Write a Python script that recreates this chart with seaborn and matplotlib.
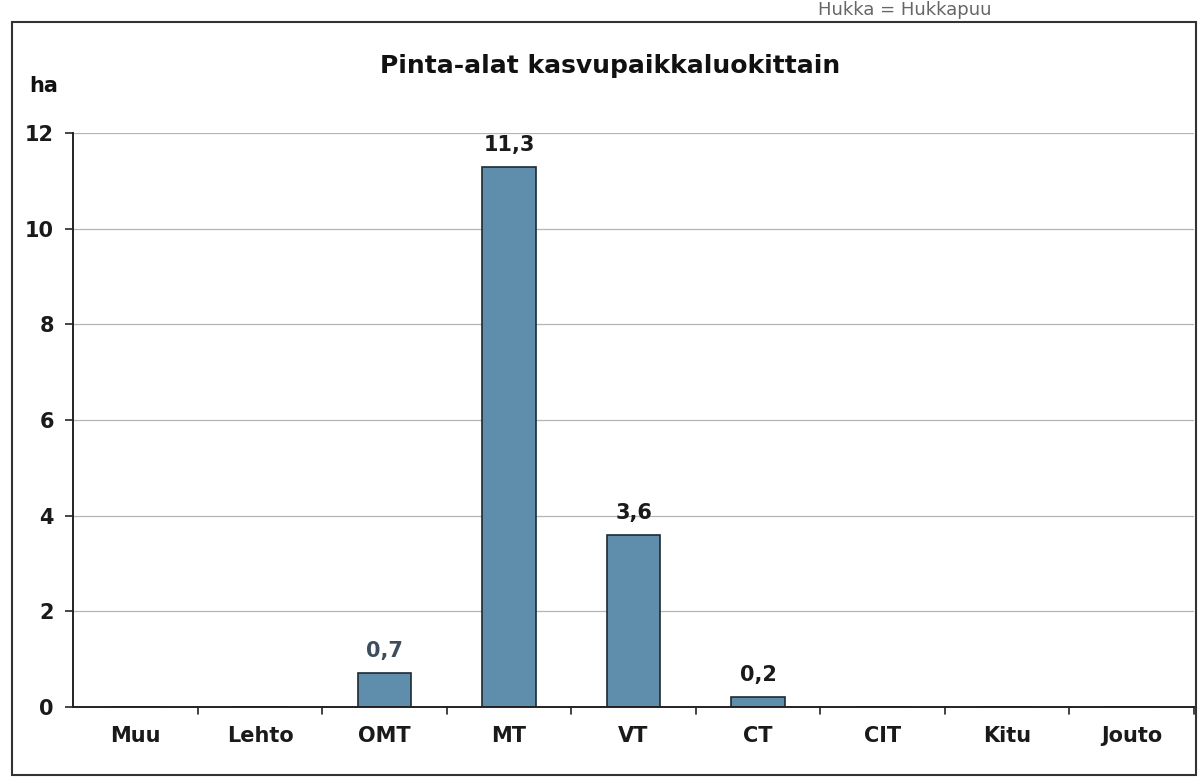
import numpy as np
import pandas as pd
import seaborn as sns
import matplotlib.pyplot as plt
from matplotlib.patches import Rectangle

# ====================== DATA ======================
categories = ["Muu", "Lehto", "OMT", "MT", "VT", "CT", "CIT", "Kitu", "Jouto"]
area_ha = [0.0, 0.0, 0.7, 11.3, 3.6, 0.2, 0.0, 0.0, 0.0]
value_labels = ["", "", "0,7", "11,3", "3,6", "0,2", "", "", ""]
y_ticks = [0, 2, 4, 6, 8, 10, 12]

df = pd.DataFrame({"luokka": categories, "ha": area_ha})

# ====================== PLOT ======================
sns.set_theme(style="white")
plt.rcParams["font.family"] = ["DejaVu Sans"]

fig = plt.figure(figsize=(12.01, 7.80), dpi=100)
ax = fig.add_axes([0.061, 0.094, 0.933, 0.735])

sns.barplot(data=df, x="luokka", y="ha", color="#5e8eab", saturation=1,
            width=0.43, edgecolor="#1e2a33", linewidth=1.2, ax=ax)

ax.set_ylim(0, 12)
ax.set_xlim(-0.5, len(categories) - 0.5)
ax.set_yticks(y_ticks)
ax.set_yticklabels([str(t) for t in y_ticks], fontsize=15, fontweight="bold",
                   color="#1a1a1a")
ax.set_xticks(range(len(categories)))
ax.set_xticklabels(categories, fontsize=15, fontweight="bold", color="#1a1a1a")
ax.tick_params(axis="x", length=0, pad=14)
ax.tick_params(axis="y", length=6, width=1.2, direction="out", left=True, pad=8)

# category boundary ticks on x axis
for b in np.arange(0.5, len(categories), 1.0):
    ax.plot([b, b], [0, -0.15], color="#222222", lw=1.2, clip_on=False)

ax.yaxis.grid(True, color="#b5b5b5", lw=0.9)
ax.set_axisbelow(True)
for s in ["top", "right"]:
    ax.spines[s].set_visible(False)
ax.spines["left"].set_color("#222222")
ax.spines["left"].set_linewidth(1.4)
ax.spines["bottom"].set_color("#222222")
ax.spines["bottom"].set_linewidth(1.4)
ax.set_xlabel("")
ax.set_ylabel("")

for i, (v, lab) in enumerate(zip(area_ha, value_labels)):
    if lab:
        col = "#3c4e5e" if lab == "0,7" else "#1a1a1a"
        ax.text(i, v + 0.25, lab, ha="center", va="bottom",
                fontsize=15, fontweight="bold", color=col)

fig.text(0.508, 0.916, "Pinta-alat kasvupaikkaluokittain", ha="center",
         va="center", fontsize=18, fontweight="bold", color="#111111")
fig.text(0.024, 0.89, "ha", ha="left", va="center", fontsize=15,
         fontweight="bold", color="#111111")
fig.text(0.681, 0.999, "Hukka = Hukkapuu", ha="left", va="top",
         fontsize=13, color="#666666")

# scanned page frame
fig.patches.append(Rectangle((0.01, 0.006), 0.986, 0.966, transform=fig.transFigure,
                             fill=False, edgecolor="#333333", lw=1.5))

fig.savefig("out.png", dpi=100, facecolor="white")
